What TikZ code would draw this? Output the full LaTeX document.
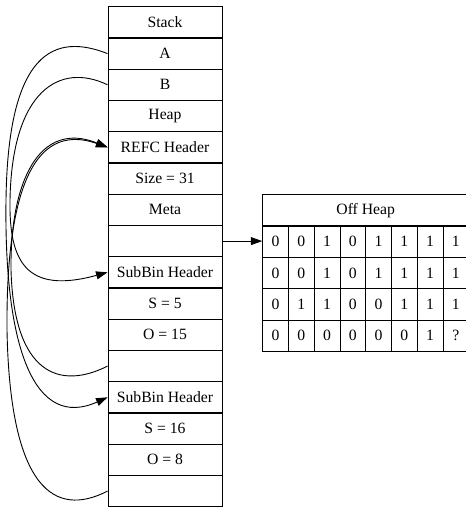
\documentclass[tikz,border=0pt]{standalone}
\usepackage{fontspec}
\setmainfont{Liberation Serif}
\usetikzlibrary{arrows.meta}
\begin{document}
\begin{tikzpicture}[x=1pt,y=-1pt,
  cell/.style={draw, line width=0.9pt, inner sep=0pt, minimum width=114pt, minimum height=31.25pt, font=\fontsize{15.7}{18}\selectfont},
  bit/.style={draw, line width=0.9pt, inner sep=0pt, minimum width=25.75pt, minimum height=31.35pt, font=\fontsize{15.7}{18}\selectfont},
  hdr/.style={draw, line width=0.9pt, inner sep=0pt, minimum width=206pt, minimum height=31.7pt, font=\fontsize{15.7}{18}\selectfont},
  link/.style={line width=0.9pt},
  tip/.style={-{Triangle[length=11.5pt,width=8pt]}}]
\useasboundingbox (0,0) rectangle (465,510);
% stack record
\node[cell] (s1)  at (165,22.3)  {Stack};
\node[cell] (s2)  at (165,53.6)  {A};
\node[cell] (s3)  at (165,84.8)  {B};
\node[cell] (s4)  at (165,116.1) {Heap};
\node[cell] (s5)  at (165,147.3) {REFC Header};
\node[cell] (s6)  at (165,178.6) {Size = 31};
\node[cell] (s7)  at (165,209.8) {Meta};
\node[cell] (s8)  at (165,241.1) {};
\node[cell] (s9)  at (165,272.3) {SubBin Header};
\node[cell] (s10) at (165,303.6) {S = 5};
\node[cell] (s11) at (165,334.8) {O = 15};
\node[cell] (s12) at (165,366.1) {};
\node[cell] (s13) at (165,397.3) {SubBin Header};
\node[cell] (s14) at (165,428.6) {S = 16};
\node[cell] (s15) at (165,459.8) {O = 8};
\node[cell] (s16) at (165,491.1) {};
% off heap table
\node[hdr] (h) at (365.7,210.15) {Off Heap};
\foreach \r/\yy/\bits in {1/241.6/{0,0,1,0,1,1,1,1},2/273.0/{0,0,1,0,1,1,1,1},3/304.35/{0,1,1,0,0,1,1,1},4/335.7/{0,0,0,0,0,0,1,?}}{
  \foreach \b [count=\j] in \bits {
    \node[bit] (c-\r-\j) at ({262.7+25.75*(\j-0.5)},\yy) {\b};
  }
}
% pointer to off heap
\draw[link,tip] (s8.east) -- (s8.east -| c-1-1.west);
% A -> second SubBin header
\draw[link,tip] (s2.west) .. controls (55,33) and (8,50) .. (6,200)
  .. controls (4,350) and (35,430) .. (s13.west);
% B -> first SubBin header
\draw[link,tip] (s3.west) .. controls (60,62) and (12,90) .. (10,200)
  .. controls (9,260) and (25,295) .. (s9.west);
% sub binary 1 orig -> REFC header
\draw[link,tip] (s12.west) .. controls (60,390) and (14,375) .. (11,270)
  .. controls (10,180) and (40,120) .. (s5.west);
% sub binary 2 orig -> REFC header
\draw[link,tip] (s16.west) .. controls (55,518) and (10,490) .. (7,330)
  .. controls (6,200) and (30,120) .. (s5.west);
\end{tikzpicture}
\end{document}
